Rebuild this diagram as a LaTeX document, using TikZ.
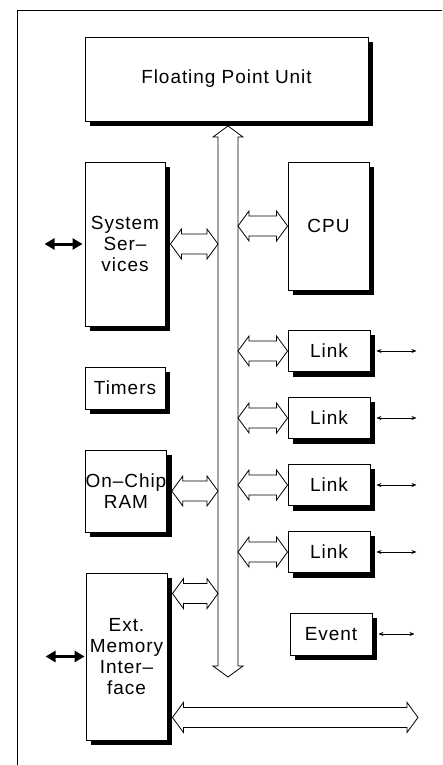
\documentclass[tikz,border=0pt]{standalone}
\usepackage{fontspec}
\setmainfont{Liberation Sans}[LetterSpace=5]
\usetikzlibrary{arrows.meta,calc,backgrounds}

\tikzset{
  unit/.style={draw, line width=0.9pt, fill=white, align=center, inner sep=0pt,
    font=\fontsize{19}{21}\selectfont},
  busline/.style={line width=0.8pt, line join=miter},
  extport/.style={line width=3pt, {Triangle[length=10pt,width=11pt]}-{Triangle[length=10pt,width=11pt]}},
  linkport/.style={line width=0.6pt, {Stealth[length=5pt,width=4pt]}-{Stealth[length=5pt,width=4pt]}},
}

% hollow double arrow from #1 (left) to #2 (right)
\newcommand\fatarrow[2]{%
  \draw[busline] let \p1=(#1), \p2=(#2) in
    (\x1,\y1) -- ++(11pt,15pt) -- ++(0,-5pt) -- (\x2-11pt,\y1+10pt) -- ++(0,5pt)
    -- (\x2,\y1) -- ++(-11pt,-15pt) -- ++(0,5pt) -- (\x1+11pt,\y1-10pt)
    -- ++(0,-5pt) -- cycle;}
% the same, upright, from #1 (top) to #2 (bottom)
\newcommand\fatbus[2]{%
  \draw[busline] let \p1=(#1), \p2=(#2) in
    (\x1,\y1) -- ++(15pt,-11pt) -- ++(-5pt,0) -- (\x1+10pt,\y2+11pt) -- ++(5pt,0)
    -- (\x1,\y2) -- ++(-15pt,11pt) -- ++(5pt,0) -- (\x1-10pt,\y1-11pt)
    -- ++(-5pt,0) -- cycle;}

\begin{document}
\begin{tikzpicture}[x=1pt, y=-1pt]
\useasboundingbox (0,0) rectangle (442,765);
\draw[line width=0.7pt] (442,10) -- (17,10) -- (17,765);

% units
\node[unit, minimum width=283pt, minimum height=84pt] (fpu) at (226.5,79) {Floating Point Unit};
\node[unit, minimum width=80pt, minimum height=164pt] (ss) at (125,244) {System\\Ser--\\vices};
\node[unit, minimum width=81pt, minimum height=128pt] (cpu) at (328.5,226) {CPU};
\node[unit, minimum width=80pt, minimum height=42pt] (tim) at (125,388) {Timers};
\node[unit, minimum width=80pt, minimum height=82pt] (ram) at (126,491) {On--Chip\\RAM};
\node[unit, minimum width=81pt, minimum height=167pt] (ext) at (126.5,656.5) {Ext.\\Memory\\Inter--\\face};
\foreach \i/\y in {1/351,2/418,3/485,4/552} {
  \node[unit, minimum width=82pt, minimum height=41pt] (link\i) at (329,\y) {Link};
}
\node[unit, minimum width=82pt, minimum height=42pt] (ev) at (331,634) {Event};

% shadows
\begin{scope}[on background layer]
\foreach \n in {fpu,ss,cpu,tim,ram,ext,link1,link2,link3,link4,ev} {
  \fill ([shift={(5,5)}]\n.north west) rectangle ([shift={(5,5)}]\n.south east);
}
\end{scope}

% internal bus
\coordinate (bustop) at (228,126);
\coordinate (busbot) at (228,677);
\coordinate (busL) at (218,0);
\coordinate (busR) at (238,0);
\fatbus{bustop}{busbot}

% connections to the bus
\fatarrow{[xshift=5pt]ss.east}{busL |- ss.east}
\fatarrow{busR |- cpu.west}{cpu.west}
\foreach \i in {1,...,4} {
  \fatarrow{busR |- link\i.west}{link\i.west}
}
\fatarrow{[xshift=5pt]ram.east}{busL |- ram.east}
\coordinate (extin) at ([shift={(5,21)}]ext.north east);
\coordinate (extlow) at ([shift={(5,-23)}]ext.south east);
\coordinate (extout) at (418,717);
\fatarrow{extin}{busL |- extin}
\fatarrow{extlow}{extout}

% external ports
\draw[extport] ([xshift=-40pt]ss.west) -- ([xshift=-2pt]ss.west);
\draw[extport] ([xshift=-40pt]ext.west) -- ([xshift=-1pt]ext.west);
\foreach \i in {1,...,4} {
  \draw[linkport] ([xshift=6pt]link\i.east) -- ([xshift=46pt]link\i.east);
}
\draw[linkport] ([xshift=6pt]ev.east) -- ([xshift=42pt]ev.east);
\end{tikzpicture}
\end{document}
